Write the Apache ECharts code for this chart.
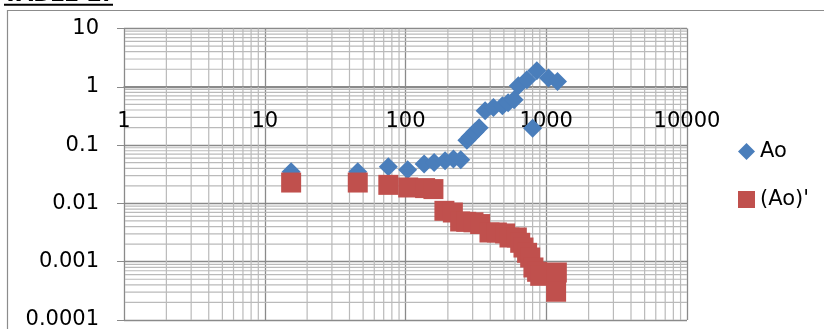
<!DOCTYPE html>
<html>
<head>
<meta charset="utf-8">
<script src="https://cdn.jsdelivr.net/npm/echarts@6/dist/echarts.min.js"></script>
<style>
html, body { margin: 0; padding: 0; background: #fff; }
#chart { width: 824px; height: 329px; }
</style>
</head>
<body>
<div id="chart"></div>
<script>
// Ao readings (blue diamonds)
const aoX = [15.4, 45.8, 75.5, 103.5, 135.6, 159.7, 191, 219, 247, 273, 288, 312.5, 333.5, 368, 421.5, 488.5, 536, 591, 634, 728, 857, 800, 1038, 1202];
const aoY = [0.0348, 0.0348, 0.0425, 0.0377, 0.0472, 0.0503, 0.0538, 0.0575, 0.056, 0.121, 0.139, 0.169, 0.198, 0.388, 0.442, 0.472, 0.532, 0.598, 1.04, 1.318, 1.88, 0.194, 1.41, 1.23];

// (Ao)' readings (red squares)
const aoPrimeX = [15.4, 45.8, 75.5, 104.5, 137.8, 157.9, 189, 217, 244.5, 270, 304, 339, 395, 446, 510, 548, 618, 653, 689, 731, 769, 811, 861, 906, 1189, 1175];
const aoPrimeY = [0.0228, 0.0228, 0.0208, 0.01875, 0.0183, 0.0176, 0.00746, 0.00698, 0.0049, 0.00483, 0.00474, 0.00442, 0.00317, 0.00317, 0.00305, 0.0026, 0.0026, 0.00211, 0.00175, 0.00142, 0.00118, 0.000796, 0.000671, 0.000573, 0.000653, 0.000305];

const seriesNames = ['Ao', "(Ao)'"];
const xTickLabels = ['1', '10', '100', '1000', '10000'];
const yTickLabels = ['0.0001', '0.001', '0.01', '0.1', '1', '10'];
const xMin = 1, xMax = 10000;
const yMin = 0.0001, yMax = 10;

// Minor log grid positions: 2..9 within each decade
function minorSteps(lo, hi) {
  const out = [];
  for (let d = lo; d < hi; d *= 10) {
    for (let k = 2; k <= 9; k++) out.push(+(d * k).toPrecision(6));
  }
  return out;
}
const minorX = minorSteps(xMin, xMax);
const minorY = minorSteps(yMin, yMax);

const FONT = 'DejaVu Sans';
const MAJOR = '#8a8a8a';
const MINOR = '#bababa';

function decadeLabel(labels, base) {
  return function (v) {
    const i = Math.round(Math.log10(v) - Math.log10(base));
    return labels[i] !== undefined ? labels[i] : '';
  };
}

const chart = echarts.init(document.getElementById('chart'), null, { renderer: 'canvas' });

chart.setOption({
  animation: false,
  backgroundColor: '#ffffff',
  grid: {
    left: 124, top: 28.5, width: 563, height: 291.5,
    containLabel: false,
    outerBoundsMode: 'none'
  },
  legend: {
    orient: 'vertical',
    left: 733, top: 136,
    itemWidth: 17, itemHeight: 17, itemGap: 27,
    textStyle: { fontFamily: FONT, fontSize: 21, color: '#000' },
    data: [
      { name: seriesNames[0], icon: 'diamond' },
      { name: seriesNames[1], icon: 'rect' }
    ]
  },
  xAxis: {
    type: 'log', logBase: 10, min: xMin, max: xMax,
    position: 'bottom',
    offset: -234,
    axisLine: { show: true, lineStyle: { color: MAJOR, width: 1 } },
    axisTick: { show: false },
    axisLabel: {
      margin: 25, fontFamily: FONT, fontSize: 21, color: '#000',
      formatter: decadeLabel(xTickLabels, xMin)
    },
    splitLine: { show: true, lineStyle: { color: MAJOR, width: 1.3 } }
  },
  yAxis: {
    type: 'log', logBase: 10, min: yMin, max: yMax,
    axisLine: { show: true, lineStyle: { color: MAJOR, width: 1 } },
    axisTick: { show: true, length: 7, lineStyle: { color: MAJOR } },
    axisLabel: {
      margin: 25, fontFamily: FONT, fontSize: 21, color: '#000',
      formatter: decadeLabel(yTickLabels, yMin)
    },
    splitLine: { show: true, lineStyle: { color: MAJOR, width: 1.3 } }
  },
  graphic: [
    {
      type: 'rect', silent: true, z: -10,
      shape: { x: 7.5, y: 10.5, width: 1000, height: 1000 },
      style: { fill: 'none', stroke: '#8c8c8c', lineWidth: 1.2 }
    },
    {
      type: 'text', left: 3, top: -16, silent: true,
      style: { text: 'TABLE 2.', fontFamily: FONT, fontWeight: 'bold', fontSize: 22, fill: '#000' }
    },
    {
      type: 'line', silent: true,
      shape: { x1: 4, y1: 4.8, x2: 113, y2: 4.8 },
      style: { stroke: '#000', lineWidth: 2 }
    }
  ],
  series: [
    {
      type: 'custom', silent: true, z: 0,
      data: minorX.map(v => [v, 1]),
      renderItem: function (params, api) {
        const v = api.value(0);
        const a = api.coord([v, yMin]);
        const b = api.coord([v, yMax]);
        return { type: 'line', shape: { x1: a[0], y1: a[1], x2: b[0], y2: b[1] },
                 style: { stroke: MINOR, lineWidth: 1.2 } };
      }
    },
    {
      type: 'custom', silent: true, z: 0,
      data: minorY.map(v => [1, v]),
      renderItem: function (params, api) {
        const v = api.value(1);
        const a = api.coord([xMin, v]);
        const b = api.coord([xMax, v]);
        return { type: 'line', shape: { x1: a[0], y1: a[1], x2: b[0], y2: b[1] },
                 style: { stroke: MINOR, lineWidth: 1.2 } };
      }
    },
    {
      name: seriesNames[0], type: 'scatter', z: 3,
      symbol: 'diamond', symbolSize: 19,
      itemStyle: { color: '#4a7ebb', opacity: 1 },
      data: aoX.map((x, i) => [x, aoY[i]])
    },
    {
      name: seriesNames[1], type: 'scatter', z: 4,
      symbol: 'rect', symbolSize: 20,
      itemStyle: { color: '#c0504d', opacity: 1 },
      data: aoPrimeX.map((x, i) => [x, aoPrimeY[i]])
    }
  ]
});
</script>
</body>
</html>
